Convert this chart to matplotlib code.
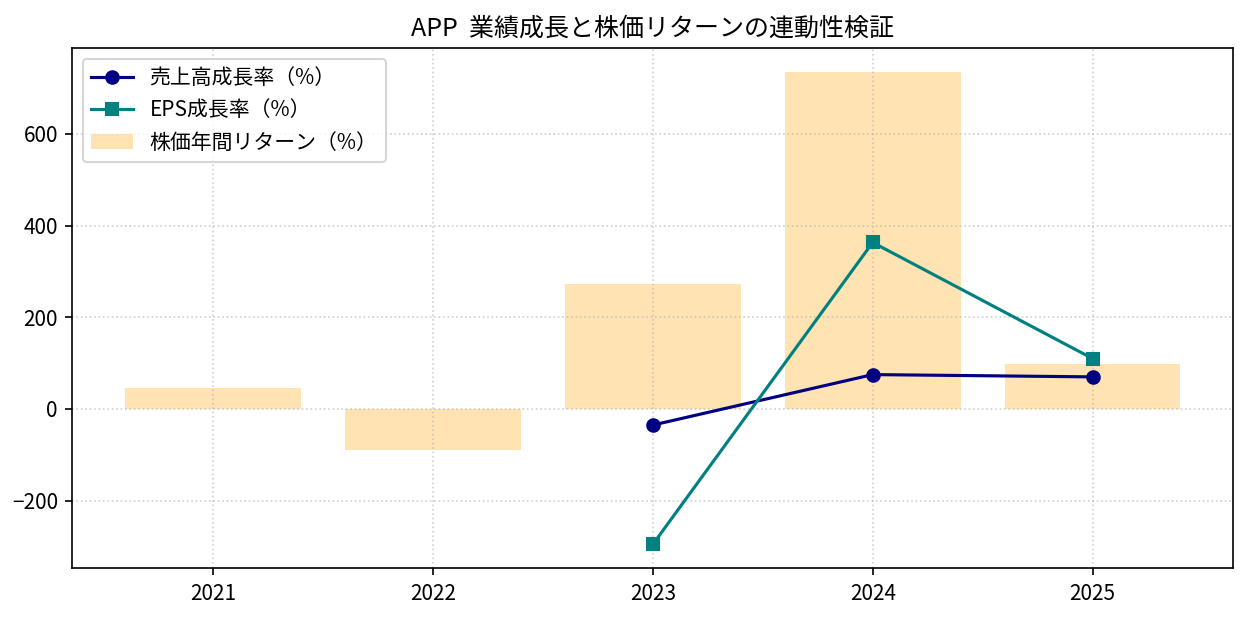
import numpy as np
import matplotlib.pyplot as plt

plt.rcParams['font.family'] = ['Noto Sans CJK JP', 'DejaVu Sans']

years = [2021, 2022, 2023, 2024, 2025]
stock_return = [45, -90, 272, 735, 97]
rev_years = [2023, 2024, 2025]
rev_growth = [-35, 75, 70]
eps_growth = [-295, 363, 110]

fig, ax = plt.subplots(figsize=(8.33, 4.12), dpi=150)

x = np.arange(len(years))
rx = [years.index(y) for y in rev_years]

ax.bar(x, stock_return, width=0.8, color="orange", alpha=0.3, label="株価年間リターン（%）")
ax.plot(rx, rev_growth, marker="o", color="navy", label="売上高成長率（%）")
ax.plot(rx, eps_growth, marker="s", color="teal", label="EPS成長率（%）")

ax.set_xticks(x)
ax.set_xticklabels([str(y) for y in years])
ax.set_title("APP  業績成長と株価リターンの連動性検証")
ax.grid(True, linestyle=":", alpha=0.6)

ax.legend(loc="upper left")

fig.subplots_adjust(left=0.058, right=0.987, top=0.922, bottom=0.081)
plt.savefig("out.png")
